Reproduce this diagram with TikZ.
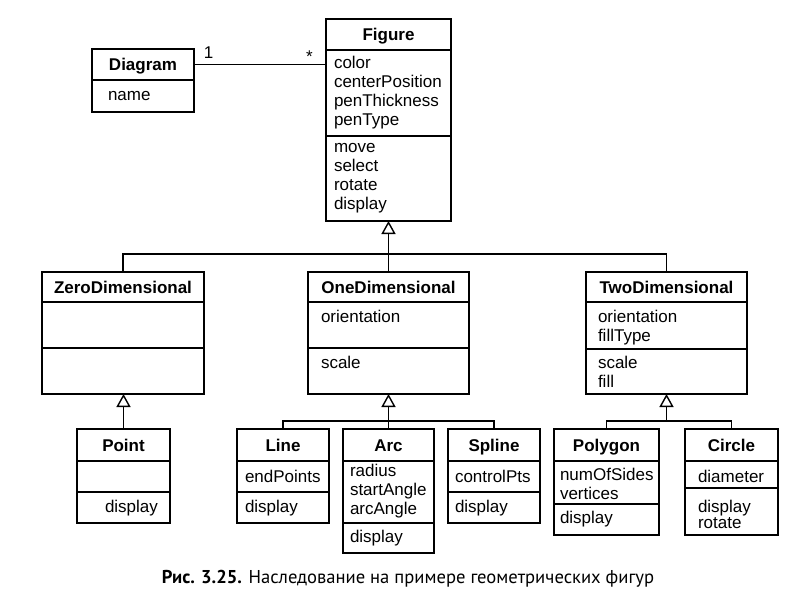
\documentclass[tikz,border=0pt]{standalone}
\usepackage{fontspec}
\setmainfont{Liberation Sans}
\newfontfamily\capfont{PT Sans}
\usepackage{tikz}
\usetikzlibrary{arrows.meta,positioning}
\newcommand{\umlsize}{\fontsize{17pt}{19pt}\selectfont}
\hyphenpenalty=10000
\exhyphenpenalty=10000
\tikzset{
  head/.style args={#1/#2}{draw, line width=1.4pt, anchor=north west, outer sep=0pt,
    inner sep=0pt, minimum width=#1, minimum height=#2, font=\umlsize\bfseries,
    text height=12pt, text depth=0pt},
  part/.style args={#1/#2/#3/#4}{draw, line width=1.4pt, anchor=north west, outer sep=0pt,
    inner ysep=0pt, inner xsep=#2, text width=#1-2*#2, text height=#3, text depth=#4-#3,
    align=left, font=\umlsize},
  inherit/.style={line width=1.4pt, -{Triangle[open, length=13pt, width=14pt]}},
  link/.style={line width=1.4pt}
}

\begin{document}
\begin{tikzpicture}[x=1pt, y=-1pt]
\useasboundingbox (0,0) rectangle (808,592);

% Diagram and Figure
\node[head=102/31] (diagt) at (92,49) {Diagram};
\node[part=102/16/20/32] (diaga) at (diagt.south west) {name};

\node[head=125/31] (figt) at (326,19) {Figure};
\node[part=125/8/18/86] (figa) at (figt.south west) {color\\centerPosition\\penThickness\\penType};
\node[part=125/8/16/85] (figo) at (figa.south west) {move\\select\\rotate\\display};

\draw[link] (diagt.east) -- (diagt.east -| figa.west);
\node[font=\umlsize, anchor=base] (multone) at (208.5,58) {1};
\node[font=\umlsize, anchor=base] (multmany) at (309.5,62) {*};

% Second level
\node[head=162/30] (zerot) at (42,272) {ZeroDimensional};
\node[part=162/12/20/46] (zeroa) at (zerot.south west) {};
\node[part=162/12/20/46] (zeroo) at (zeroa.south west) {};

\node[head=161/30] (onet) at (308,272) {OneDimensional};
\node[part=161/13/20/46] (onea) at (onet.south west) {orientation};
\node[part=161/13/20/46] (oneo) at (onea.south west) {scale};

\node[head=161/30] (twot) at (586,272) {TwoDimensional};
\node[part=161/12/20/47] (twoa) at (twot.south west) {orientation\\fillType};
\node[part=161/12/19/45] (twoo) at (twoa.south west) {scale\\fill};

% Third level
\node[head=93/32] (pointt) at (77,429) {Point};
\node[part=93/28/20/31] (pointa) at (pointt.south west) {};
\node[part=93/28/20/31] (pointo) at (pointa.south west) {display};

\node[head=92/32] (linet) at (237,429) {Line};
\node[part=92/8/21/31] (linea) at (linet.south west) {endPoints};
\node[part=92/8/20/31] (lineo) at (linea.south west) {display};

\node[head=91/32] (arct) at (343,429) {Arc};
\node[part=91/7/15/62] (arca) at (arct.south west) {radius\\startAngle\\arcAngle};
\node[part=91/7/19/30] (arco) at (arca.south west) {display};

\node[head=92/32] (splinet) at (448,429) {Spline};
\node[part=92/7/21/31] (splinea) at (splinet.south west) {controlPts};
\node[part=92/7/20/31] (splineo) at (splinea.south west) {display};

\node[head=105/32] (polyt) at (554,429) {Polygon};
\node[part=105/6/19/43] (polya) at (polyt.south west) {numOfSides\\vertices};
\node[part=105/6/19/31] (polyo) at (polya.south west) {display};

\node[head=93/32] (circt) at (685,429) {Circle};
\node[part=93/13/21/27] (circa) at (circt.south west) {diameter};
\node[part=93/13/24/47] (circo) at (circa.south west) {display\\[-3pt]rotate};

% Generalization
\coordinate (bus1) at (388.5,254);
\coordinate (bus2) at (388.5,421);
\coordinate (bus3) at (666.5,421);
\draw[inherit] (onet.north) -- (figo.south);
\draw[link] (zerot.north) |- (bus1) -| (twot.north);
\draw[inherit] (pointt.north) -- (pointt.north |- zeroo.south);
\draw[inherit] (arct.north) -- (arct.north |- oneo.south);
\draw[link] (linet.north) |- (bus2) -| (splinet.north);
\draw[inherit] (bus3) -- (twoo.south);
\draw[link] (polyt.north) |- (bus3) -| (circt.north);

% Caption
\node[font=\capfont\fontsize{18.6pt}{20pt}\selectfont, anchor=base] (caption) at (408,583)
  {\textbf{Рис. 3.25.} Наследование на примере геометрических фигур};
\end{tikzpicture}
\end{document}
